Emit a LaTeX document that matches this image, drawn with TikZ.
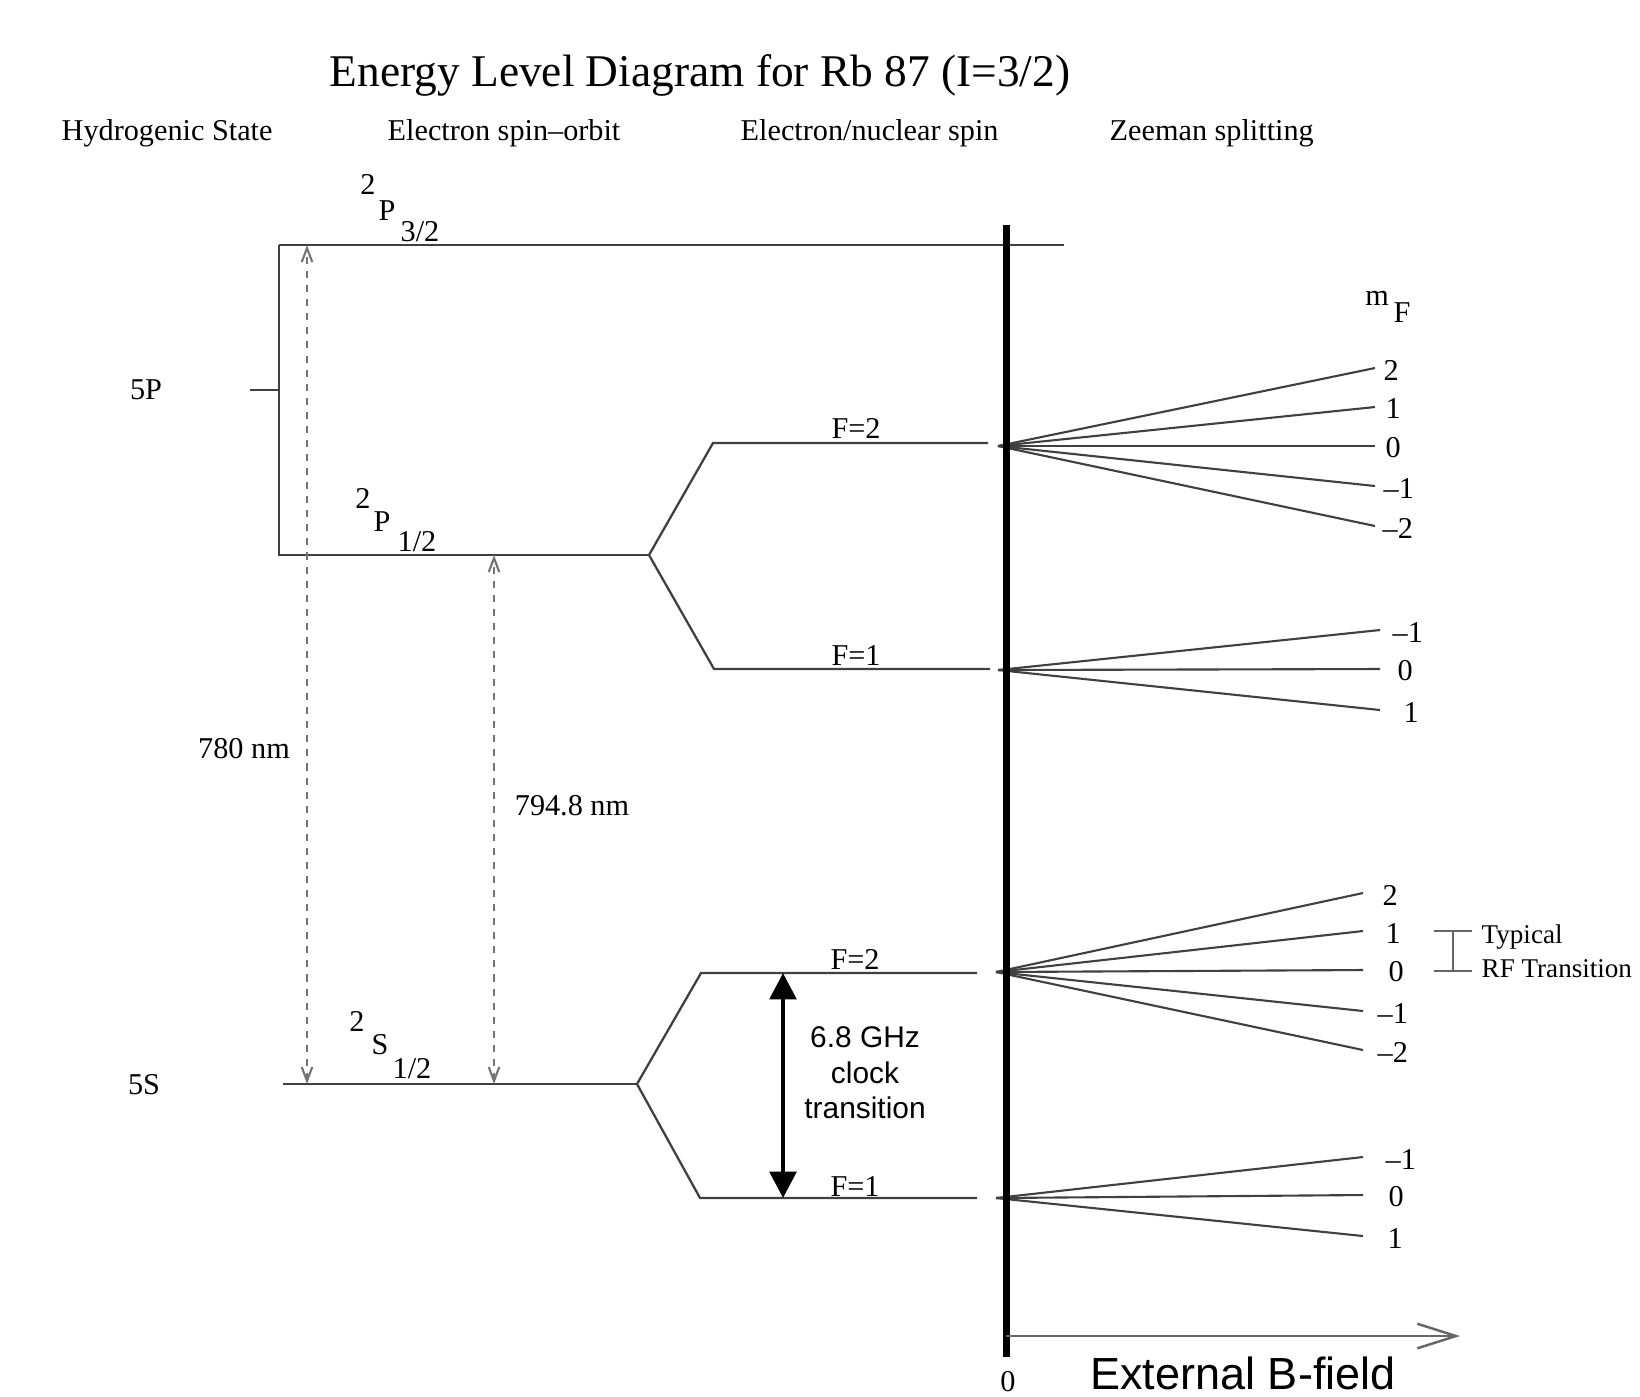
\documentclass[tikz,border=0pt]{standalone}
\usepackage{fontspec}
\setmainfont{Liberation Serif}
\newfontfamily\helv{Liberation Sans}
\usetikzlibrary{positioning,arrows.meta}

\begin{document}
\begin{tikzpicture}[x=0.01cm, y=-0.01cm,
  lvl/.style={draw=black!75, line width=0.65pt},
  fan/.style={draw=black!75, line width=0.6pt},
  txt/.style={inner sep=0pt, font=\fontsize{8.6}{10}\selectfont},
  sans/.style={inner sep=0pt, font=\helv\fontsize{8.5}{10.1}\selectfont, align=center},
  optic/.style={draw=black!55, line width=0.6pt, dash pattern=on 2pt off 2pt,
    {Straight Barb[length=4pt,width=3pt]}-{Straight Barb[length=4pt,width=3pt]}},
  clock/.style={line width=1.3pt,
    {Triangle[length=7.5pt,width=7.5pt]}-{Triangle[length=7.5pt,width=7.5pt]}},
  >=Stealth
]
\useasboundingbox (0,0) rectangle (1640,1396);

% titles
\node[font=\fontsize{12.9}{16}\selectfont, inner sep=0pt, anchor=base] (title) at (700,86)
  {Energy Level Diagram for Rb 87 (I=3/2)};
\node[txt, anchor=base west] (hHyd) at (61,140) {Hydrogenic State};
\node[txt, anchor=base west] (hSO) at (387,140) {Electron spin--orbit};
\node[txt, anchor=base west] (hHF) at (740,140) {Electron/nuclear spin};
\node[txt, anchor=base west] (hZee) at (1109,140) {Zeeman splitting};

% hydrogenic and fine structure levels
\coordinate (p32a) at (279,245);
\coordinate (p32b) at (1064,245);
\coordinate (p12a) at (279,555);
\coordinate (p12b) at (649,555);
\coordinate (s12a) at (283,1084);
\coordinate (s12b) at (637,1084);
\coordinate (tick) at (250,390);
\draw[lvl] (p32a) -- (p32b);
\draw[lvl] (p32a) -- (p12a) -- (p12b);
\draw[lvl] (tick) -- (tick -| p32a);
\draw[lvl] (s12a) -- (s12b);

\node[txt] (l5P) at (146,390) {5P};
\node[txt] (l5S) at (144,1085) {5S};

\node[txt] (p32n) at (368,184) {2};
\node[txt] (p32l) at (387,211) {P};
\node[txt] (p32j) at (420,232) {3/2};
\node[txt] (p12n) at (363,498) {2};
\node[txt] (p12l) at (382,522) {P};
\node[txt] (p12j) at (417,542) {1/2};
\node[txt] (s12n) at (357,1021) {2};
\node[txt] (s12l) at (380,1045) {S};
\node[txt] (s12j) at (412,1069) {1/2};

% optical transitions
\coordinate (d2t) at (307,245);
\coordinate (d2b) at (307,1084);
\coordinate (d1t) at (494,555);
\coordinate (d1b) at (494,1084);
\draw[optic] (d2b) -- (d2t);
\draw[optic] (d1b) -- (d1t);
\node[txt] (d2lab) at (244,749) {780 nm};
\node[txt] (d1lab) at (572,806) {794.8 nm};

% hyperfine levels
\coordinate (pf2a) at (713,443);
\coordinate (pf2b) at (988,443);
\coordinate (pf1a) at (714,669);
\coordinate (pf1b) at (990,669);
\draw[lvl] (pf2b) -- (pf2a) -- (p12b) -- (pf1a) -- (pf1b);
\node[txt] (pf2lab) at (856,428) {F=2};
\node[txt] (pf1lab) at (856,655) {F=1};

\coordinate (sf2a) at (701,973);
\coordinate (sf2b) at (977,973);
\coordinate (sf1a) at (700,1198);
\coordinate (sf1b) at (977,1198);
\draw[lvl] (sf2b) -- (sf2a) -- (s12b) -- (sf1a) -- (sf1b);
\node[txt] (sf2lab) at (855,959) {F=2};
\node[txt] (sf1lab) at (855,1186) {F=1};

\coordinate (ct) at (783,973);
\coordinate (cb) at (783,1198);
\draw[clock] (ct) -- (cb);
\node[sans] (clab) at (865,1073) {6.8 GHz\\clock\\transition};

% Zeeman fans
\coordinate (pf2o) at (998,446);
\coordinate (pf1o) at (998,670);
\coordinate (sf2o) at (996,972);
\coordinate (sf1o) at (996,1198);
\foreach \yy/\m/\lx [count=\i] in {368/2/1383, 407/1/1385, 446/0/1385, 486/--1/1383, 526/--2/1382}{
  \coordinate (pf2e\i) at (1375,\yy);
  \draw[fan] (pf2o) -- (pf2e\i);
  \node[txt, anchor=west] (pf2m\i) at (\lx,\yy+2) {\m};
}
\foreach \yy/\m/\lx [count=\i] in {630/--1/1392, 669/0/1397, 710/1/1403}{
  \coordinate (pf1e\i) at (1380,\yy);
  \draw[fan] (pf1o) -- (pf1e\i);
  \node[txt, anchor=west] (pf1m\i) at (\lx,\yy+2) {\m};
}
\foreach \yy/\m/\lx [count=\i] in {893/2/1382, 931/1/1385, 970/0/1388, 1011/--1/1377, 1050/--2/1377}{
  \coordinate (sf2e\i) at (1363,\yy);
  \draw[fan] (sf2o) -- (sf2e\i);
  \node[txt, anchor=west] (sf2m\i) at (\lx,\yy+2) {\m};
}
\foreach \yy/\m/\lx [count=\i] in {1157/--1/1385, 1195/0/1388, 1236/1/1387}{
  \coordinate (sf1e\i) at (1363,\yy);
  \draw[fan] (sf1o) -- (sf1e\i);
  \node[txt, anchor=west] (sf1m\i) at (\lx,\yy+2) {\m};
}
\node[txt] (mfm) at (1377,298) {m};
\node[txt] (mff) at (1402,313) {F};

% RF transition marker
\coordinate (rft) at (1453,931);
\coordinate (rfb) at (1453,971);
\draw[draw=black!60, line width=0.6pt] (rft) -- (rfb)
  ([xshift=-5.3pt]rft) -- ([xshift=5.3pt]rft)
  ([xshift=-5.3pt]rfb) -- ([xshift=5.3pt]rfb);
\node[txt, anchor=west, align=left, font=\fontsize{7.7}{9.7}\selectfont] (rflab) at (1481,951)
  {Typical\\RF Transition};

% zero field and B axis
\coordinate (zt) at (1006,225);
\coordinate (zb) at (1006,1357);
\draw[line width=2pt] (zt) -- (zb);
\coordinate (bo) at (1006,1336);
\coordinate (be) at (1460,1336);
\draw[draw=black!60, line width=0.7pt, -{Straight Barb[length=11pt,width=7pt]}] (bo) -- (be);
\node[txt] (bzero) at (1008,1382) {0};
\node[inner sep=0pt, anchor=base, font=\helv\fontsize{12.8}{15}\selectfont] (blab) at (1243,1389)
  {External B-field};
\end{tikzpicture}
\end{document}
